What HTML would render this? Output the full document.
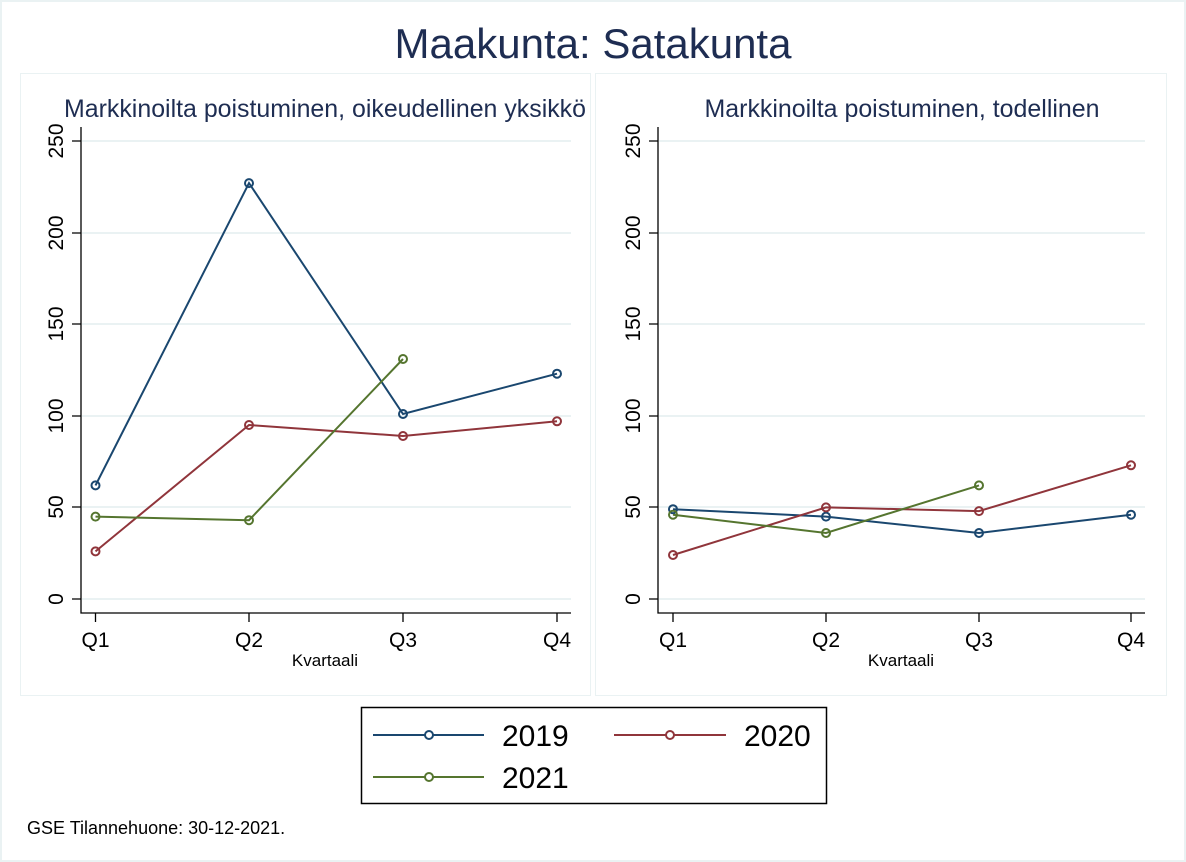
<!DOCTYPE html>
<html><head><meta charset="utf-8"><style>html,body{margin:0;padding:0;background:#fff}svg{display:block}</style></head><body>
<svg width="1186" height="862" xmlns="http://www.w3.org/2000/svg" font-family="Liberation Sans, Arial, sans-serif">
<rect x="0" y="0" width="1186" height="862" fill="#fff"/>
<rect x="1" y="1" width="1184" height="860" fill="none" stroke="#eaf2f3" stroke-width="2"/>
<text x="593" y="58" text-anchor="middle" font-size="42" fill="#1e2d52">Maakunta: Satakunta</text>
<rect x="20.5" y="73.5" width="570" height="622" fill="#fff" stroke="#eaf2f3"/>
<rect x="595.5" y="73.5" width="571" height="622" fill="#fff" stroke="#eaf2f3"/>
<text x="325" y="117" text-anchor="middle" font-size="25" textLength="522" lengthAdjust="spacingAndGlyphs" fill="#1e2d52">Markkinoilta poistuminen, oikeudellinen yksikkö</text>
<text x="902" y="117" text-anchor="middle" font-size="25" textLength="395" lengthAdjust="spacingAndGlyphs" fill="#1e2d52">Markkinoilta poistuminen, todellinen</text>
<g stroke="#eaf2f3" stroke-width="2">
<line x1="82" x2="571" y1="141" y2="141"/><line x1="82" x2="571" y1="233" y2="233"/><line x1="82" x2="571" y1="324" y2="324"/><line x1="82" x2="571" y1="416" y2="416"/><line x1="82" x2="571" y1="507" y2="507"/><line x1="82" x2="571" y1="599" y2="599"/>
<line x1="659" x2="1145" y1="141" y2="141"/><line x1="659" x2="1145" y1="233" y2="233"/><line x1="659" x2="1145" y1="324" y2="324"/><line x1="659" x2="1145" y1="416" y2="416"/><line x1="659" x2="1145" y1="507" y2="507"/><line x1="659" x2="1145" y1="599" y2="599"/>
</g>
<g stroke="#000" stroke-width="1.3" fill="none">
<path d="M81 127V613H571"/>
<path d="M658 127V613H1145"/>
<path d="M72 141H81M72 233H81M72 324H81M72 416H81M72 507H81M72 599H81"/>
<path d="M649 141H658M649 233H658M649 324H658M649 416H658M649 507H658M649 599H658"/>
<path d="M95.5 613V622M249 613V622M403 613V622M557 613V622"/>
<path d="M673 613V622M826 613V622M979 613V622M1131 613V622"/>
</g>
<g font-size="21" fill="#000" text-anchor="middle">
<text transform="translate(63,141) rotate(-90)">250</text><text transform="translate(63,233) rotate(-90)">200</text><text transform="translate(63,324) rotate(-90)">150</text><text transform="translate(63,416) rotate(-90)">100</text><text transform="translate(63,507) rotate(-90)">50</text><text transform="translate(63,599) rotate(-90)">0</text>
<text transform="translate(640,141) rotate(-90)">250</text><text transform="translate(640,233) rotate(-90)">200</text><text transform="translate(640,324) rotate(-90)">150</text><text transform="translate(640,416) rotate(-90)">100</text><text transform="translate(640,507) rotate(-90)">50</text><text transform="translate(640,599) rotate(-90)">0</text>
<text x="95.5" y="647">Q1</text><text x="249" y="647">Q2</text><text x="403" y="647">Q3</text><text x="557" y="647">Q4</text>
<text x="673" y="647">Q1</text><text x="826" y="647">Q2</text><text x="979" y="647">Q3</text><text x="1131" y="647">Q4</text>
<text x="325" y="666" font-size="17">Kvartaali</text><text x="901" y="666" font-size="17">Kvartaali</text>
</g>
<g fill="none" stroke-width="2">
<g stroke="#1a476f"><polyline points="95.5,485.4 249,183.1 403,414 557,373.7"/>
<circle cx="95.5" cy="485.4" r="4"/><circle cx="249" cy="183.1" r="4"/><circle cx="403" cy="414" r="4"/><circle cx="557" cy="373.7" r="4"/>
<polyline points="673,509.2 826,516.6 979,533 1131,514.7"/>
<circle cx="673" cy="509.2" r="4"/><circle cx="826" cy="516.6" r="4"/><circle cx="979" cy="533" r="4"/><circle cx="1131" cy="514.7" r="4"/></g>
<g stroke="#90353b"><polyline points="95.5,551.4 249,425 403,436 557,421.3"/>
<circle cx="95.5" cy="551.4" r="4"/><circle cx="249" cy="425" r="4"/><circle cx="403" cy="436" r="4"/><circle cx="557" cy="421.3" r="4"/>
<polyline points="673,555 826,507.4 979,511.1 1131,465.3"/>
<circle cx="673" cy="555" r="4"/><circle cx="826" cy="507.4" r="4"/><circle cx="979" cy="511.1" r="4"/><circle cx="1131" cy="465.3" r="4"/></g>
<g stroke="#55752f"><polyline points="95.5,516.6 249,520.2 403,359"/>
<circle cx="95.5" cy="516.6" r="4"/><circle cx="249" cy="520.2" r="4"/><circle cx="403" cy="359" r="4"/>
<polyline points="673,514.7 826,533 979,485.4"/>
<circle cx="673" cy="514.7" r="4"/><circle cx="826" cy="533" r="4"/><circle cx="979" cy="485.4" r="4"/></g>
</g>
<rect x="361.5" y="707.5" width="465" height="96" fill="#fff" stroke="#000" stroke-width="1.5"/>
<g fill="none" stroke-width="2">
<line x1="373" x2="484" y1="735" y2="735" stroke="#1a476f"/><circle cx="429" cy="735" r="4" stroke="#1a476f" fill="#fff"/>
<line x1="614" x2="726" y1="735" y2="735" stroke="#90353b"/><circle cx="670" cy="735" r="4" stroke="#90353b" fill="#fff"/>
<line x1="373" x2="484" y1="777" y2="777" stroke="#55752f"/><circle cx="429" cy="777" r="4" stroke="#55752f" fill="#fff"/>
</g>
<g font-size="30" fill="#000">
<text x="502" y="746">2019</text><text x="744" y="746">2020</text><text x="502" y="788">2021</text>
</g>
<text x="27" y="834" font-size="18" fill="#000">GSE Tilannehuone: 30-12-2021.</text>
</svg>
</body></html>
